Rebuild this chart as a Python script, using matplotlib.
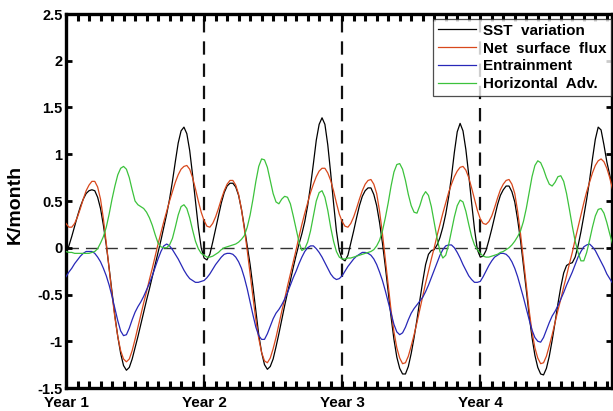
import numpy as np
import matplotlib
matplotlib.use("Agg")
import matplotlib.pyplot as plt

plt.rcParams['font.family'] = ['Liberation Sans', 'DejaVu Sans']
plt.rcParams['font.weight'] = 'bold'

# time axis in months (quarter-month steps over four years)
months = np.arange(0, 48, 0.25)

sst_variation = [
    # year 1
    -0.07, 0.02, 0.12, 0.23, 0.34, 0.44, 0.52, 0.58, 0.61, 0.62, 0.61, 0.54,
    0.42, 0.24, 0.03, -0.22, -0.48, -0.73, -0.95, -1.13, -1.26, -1.31, -1.28, -1.19,
    -1.07, -0.95, -0.82, -0.69, -0.56, -0.44, -0.31, -0.18, -0.05, 0.08, 0.22, 0.36,
    0.52, 0.71, 0.92, 1.12, 1.25, 1.29, 1.22, 1.04, 0.78, 0.50, 0.22, 0.00,
    # year 2
    -0.11, -0.13, -0.07, 0.06, 0.20, 0.34, 0.48, 0.59, 0.66, 0.69, 0.69, 0.65,
    0.56, 0.41, 0.22, 0.02, -0.18, -0.42, -0.68, -0.93, -1.12, -1.25, -1.30, -1.27,
    -1.19, -1.06, -0.92, -0.77, -0.62, -0.48, -0.35, -0.21, -0.08, 0.04, 0.15, 0.28,
    0.45, 0.66, 0.90, 1.15, 1.32, 1.39, 1.32, 1.10, 0.80, 0.48, 0.18, -0.03,
    # year 3
    -0.12, -0.14, -0.08, 0.05, 0.18, 0.32, 0.45, 0.55, 0.61, 0.64, 0.64, 0.57,
    0.45, 0.27, 0.05, -0.20, -0.47, -0.74, -0.98, -1.17, -1.29, -1.35, -1.35, -1.27,
    -1.13, -0.96, -0.77, -0.56, -0.36, -0.18, -0.07, -0.03, -0.02, 0.03, 0.11, 0.22,
    0.36, 0.54, 0.76, 1.02, 1.24, 1.33, 1.25, 1.05, 0.78, 0.48, 0.20, -0.02,
    # year 4
    -0.10, -0.09, -0.03, 0.08, 0.20, 0.33, 0.46, 0.56, 0.62, 0.66, 0.66, 0.60,
    0.49, 0.30, 0.08, -0.18, -0.45, -0.72, -0.96, -1.15, -1.28, -1.35, -1.36, -1.29,
    -1.16, -0.99, -0.80, -0.60, -0.42, -0.27, -0.19, -0.17, -0.16, -0.10, 0.02, 0.17,
    0.34, 0.52, 0.72, 0.95, 1.16, 1.29, 1.26, 1.10, 0.92, 0.78, 0.64, 0.50,
]

net_surface_flux = [
    # year 1
    0.26, 0.22, 0.22, 0.26, 0.33, 0.42, 0.52, 0.61, 0.67, 0.71, 0.71, 0.65,
    0.52, 0.31, 0.05, -0.23, -0.50, -0.75, -0.95, -1.10, -1.19, -1.22, -1.19, -1.10,
    -0.98, -0.85, -0.72, -0.59, -0.47, -0.34, -0.22, -0.09, 0.04, 0.16, 0.28, 0.39,
    0.50, 0.60, 0.70, 0.78, 0.84, 0.87, 0.88, 0.84, 0.75, 0.63, 0.50, 0.38,
    # year 2
    0.29, 0.23, 0.22, 0.26, 0.33, 0.42, 0.52, 0.61, 0.68, 0.72, 0.72, 0.67,
    0.57, 0.41, 0.20, -0.03, -0.28, -0.53, -0.77, -0.97, -1.12, -1.21, -1.23, -1.18,
    -1.08, -0.96, -0.82, -0.68, -0.55, -0.41, -0.28, -0.15, -0.02, 0.12, 0.25, 0.37,
    0.48, 0.59, 0.68, 0.76, 0.82, 0.85, 0.85, 0.80, 0.72, 0.61, 0.48, 0.36,
    # year 3
    0.28, 0.23, 0.22, 0.26, 0.33, 0.42, 0.52, 0.61, 0.68, 0.72, 0.73, 0.68,
    0.58, 0.39, 0.15, -0.12, -0.40, -0.67, -0.90, -1.07, -1.18, -1.24, -1.23, -1.16,
    -1.05, -0.93, -0.80, -0.66, -0.52, -0.38, -0.25, -0.12, 0.00, 0.13, 0.25, 0.37,
    0.48, 0.59, 0.68, 0.76, 0.82, 0.86, 0.87, 0.83, 0.75, 0.64, 0.52, 0.40,
    # year 4
    0.31, 0.26, 0.25, 0.28, 0.34, 0.43, 0.53, 0.62, 0.68, 0.72, 0.73, 0.68,
    0.58, 0.39, 0.15, -0.12, -0.40, -0.67, -0.90, -1.07, -1.18, -1.24, -1.23, -1.16,
    -1.05, -0.93, -0.80, -0.67, -0.55, -0.42, -0.30, -0.17, -0.05, 0.09, 0.22, 0.35,
    0.48, 0.60, 0.70, 0.80, 0.88, 0.93, 0.95, 0.92, 0.85, 0.75, 0.62, 0.50,
]

entrainment = [
    # year 1
    -0.31, -0.26, -0.22, -0.17, -0.13, -0.09, -0.06, -0.04, -0.04, -0.04, -0.06, -0.10,
    -0.15, -0.22, -0.30, -0.40, -0.52, -0.65, -0.78, -0.89, -0.94, -0.93, -0.86, -0.77,
    -0.69, -0.63, -0.58, -0.52, -0.45, -0.38, -0.30, -0.21, -0.12, -0.04, 0.02, 0.04,
    0.02, -0.02, -0.07, -0.12, -0.18, -0.24, -0.29, -0.33, -0.35, -0.37, -0.37, -0.36,
    # year 2
    -0.35, -0.32, -0.28, -0.23, -0.18, -0.14, -0.10, -0.07, -0.06, -0.06, -0.07, -0.10,
    -0.15, -0.22, -0.32, -0.44, -0.58, -0.72, -0.85, -0.94, -0.98, -0.98, -0.92, -0.84,
    -0.76, -0.70, -0.66, -0.61, -0.55, -0.48, -0.40, -0.32, -0.25, -0.17, -0.10, -0.04,
    0.00, 0.02, 0.02, -0.01, -0.05, -0.10, -0.16, -0.22, -0.28, -0.32, -0.34, -0.33,
    # year 3
    -0.30, -0.25, -0.20, -0.16, -0.12, -0.09, -0.07, -0.05, -0.05, -0.06, -0.08, -0.12,
    -0.18, -0.26, -0.35, -0.46, -0.58, -0.70, -0.82, -0.90, -0.93, -0.91, -0.85, -0.77,
    -0.70, -0.65, -0.61, -0.57, -0.53, -0.47, -0.40, -0.32, -0.24, -0.16, -0.08, -0.02,
    0.02, 0.03, 0.03, 0.00, -0.05, -0.11, -0.18, -0.24, -0.30, -0.34, -0.37, -0.37,
    # year 4
    -0.36, -0.31, -0.25, -0.19, -0.14, -0.10, -0.08, -0.06, -0.06, -0.07, -0.10, -0.15,
    -0.22, -0.31, -0.42, -0.53, -0.65, -0.77, -0.88, -0.96, -1.00, -1.01, -0.96, -0.88,
    -0.80, -0.73, -0.68, -0.62, -0.55, -0.48, -0.40, -0.33, -0.26, -0.18, -0.10, -0.04,
    0.01, 0.03, 0.04, 0.01, -0.03, -0.09, -0.15, -0.21, -0.28, -0.33, -0.38, -0.40,
]

horizontal_adv = [
    # year 1
    -0.04, -0.05, -0.05, -0.06, -0.06, -0.06, -0.06, -0.06, -0.06, -0.05, -0.04, -0.01,
    0.05, 0.12, 0.22, 0.36, 0.52, 0.66, 0.78, 0.85, 0.87, 0.84, 0.75, 0.62,
    0.50, 0.46, 0.44, 0.42, 0.38, 0.32, 0.24, 0.14, 0.05, 0.01, 0.00, 0.00,
    0.03, 0.10, 0.22, 0.35, 0.44, 0.46, 0.42, 0.32, 0.19, 0.07, -0.01, -0.06,
    # year 2
    -0.08, -0.10, -0.10, -0.09, -0.07, -0.05, -0.02, 0.00, 0.01, 0.02, 0.03, 0.04,
    0.06, 0.09, 0.13, 0.22, 0.35, 0.52, 0.71, 0.87, 0.95, 0.94, 0.86, 0.72,
    0.58, 0.49, 0.47, 0.52, 0.55, 0.54, 0.47, 0.34, 0.20, 0.06, -0.03, -0.01,
    0.06, 0.18, 0.34, 0.50, 0.59, 0.61, 0.54, 0.40, 0.22, 0.07, -0.04, -0.10,
    # year 3
    -0.12, -0.12, -0.11, -0.11, -0.10, -0.09, -0.08, -0.07, -0.06, -0.05, -0.04, -0.02,
    0.02, 0.08, 0.18, 0.32, 0.48, 0.66, 0.81, 0.89, 0.90, 0.84, 0.72, 0.57,
    0.45, 0.38, 0.37, 0.45, 0.55, 0.60, 0.56, 0.44, 0.27, 0.10, -0.04, -0.11,
    -0.08, 0.03, 0.18, 0.33, 0.45, 0.51, 0.49, 0.39, 0.25, 0.12, 0.03, -0.02,
    # year 4
    -0.06, -0.09, -0.10, -0.10, -0.09, -0.08, -0.07, -0.05, -0.04, -0.02, 0.00, 0.03,
    0.07, 0.12, 0.18, 0.28, 0.42, 0.59, 0.76, 0.88, 0.93, 0.91, 0.84, 0.75,
    0.68, 0.66, 0.70, 0.76, 0.77, 0.71, 0.58, 0.41, 0.23, 0.07, -0.05, -0.14,
    -0.14, -0.05, 0.08, 0.22, 0.34, 0.41, 0.42, 0.37, 0.27, 0.15, 0.04, -0.02,
]

series_names = ["SST  variation", "Net  surface  flux", "Entrainment", "Horizontal  Adv."]
series_colors = ["#000000", "#d8481c", "#2828b8", "#3cc23c"]

year_ticks = [0, 12, 24, 36]
year_labels = ["Year 1", "Year 2", "Year 3", "Year 4"]
y_ticks = [-1.5, -1, -0.5, 0, 0.5, 1, 1.5, 2, 2.5]
y_ticklabels = ["-1.5", "-1", "-0.5", "0", "0.5", "1", "1.5", "2", "2.5"]

fig = plt.figure(figsize=(6.13, 4.11), dpi=100)
ax = fig.add_axes([66 / 613, 23 / 411, 546 / 613, 374 / 411])

# reference lines: zero and year boundaries
ax.axhline(0, color="#333333", lw=1.0, dashes=(9, 5), zorder=1)
for yr in year_ticks[1:]:
    ax.axvline(yr, color="#111111", lw=1.6, dashes=(6, 4), zorder=1)

for vals, name, col in zip([sst_variation, net_surface_flux, entrainment, horizontal_adv],
                           series_names, series_colors):
    ax.plot(months, vals, color=col, lw=0.9, label=name, zorder=3)

ax.set_xlim(0, 47.45)
ax.set_ylim(-1.5, 2.5)

ax.set_yticks(y_ticks)
ax.set_yticklabels(y_ticklabels, fontsize=10.5, fontweight="bold")
ax.set_xticks(year_ticks)
ax.set_xticklabels(year_labels, fontsize=11, fontweight="bold")
ax.set_xticks(np.arange(0, 48, 1), minor=True)

ax.tick_params(axis="y", which="major", direction="in", length=4, width=2,
               left=True, right=True, pad=2.5)
ax.tick_params(axis="x", which="major", direction="in", length=5, width=2.2,
               top=True, bottom=True, pad=6)
ax.tick_params(axis="x", which="minor", direction="in", length=5, width=2.2,
               top=True, bottom=True)
for sp in ax.spines.values():
    sp.set_linewidth(2.4)

ax.set_ylabel("K/month", fontsize=14, fontweight="bold")
ax.yaxis.set_label_coords(-0.078, 0.49)

leg = ax.legend(loc="upper right", bbox_to_anchor=(0.9985, 0.986),
                prop={"weight": "bold", "size": 11}, frameon=True, fancybox=False,
                handlelength=2.5, handletextpad=0.45, borderpad=0.3, labelspacing=0.25,
                borderaxespad=0.0)
leg.get_frame().set_edgecolor("#222222")
leg.get_frame().set_linewidth(0.9)
for ln in leg.get_lines():
    ln.set_linewidth(0.9)

fig.savefig("out.png", dpi=100)
